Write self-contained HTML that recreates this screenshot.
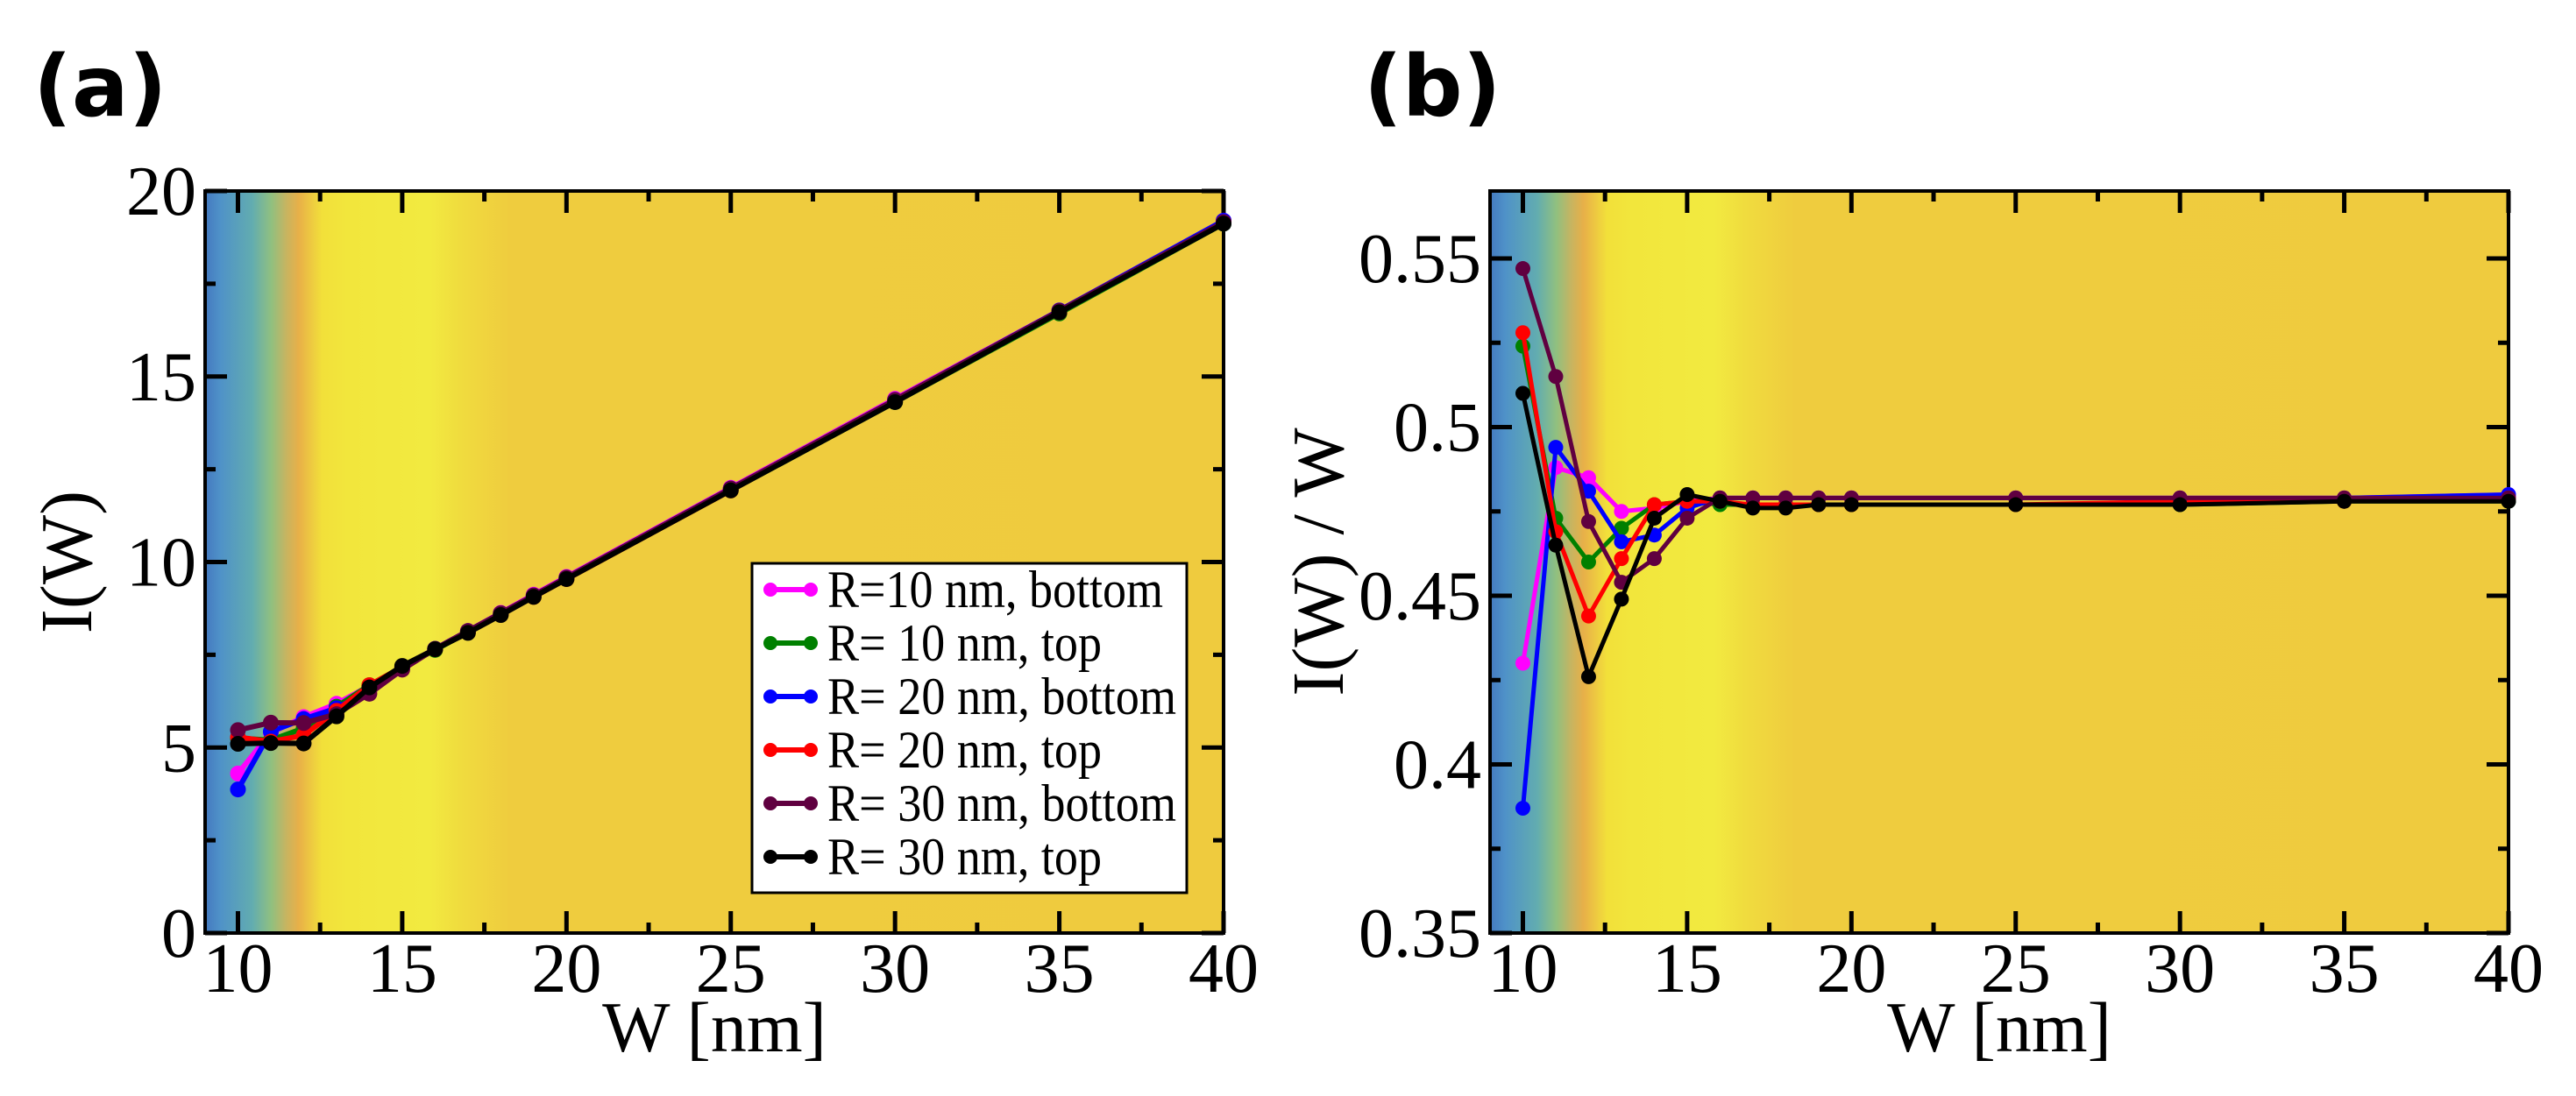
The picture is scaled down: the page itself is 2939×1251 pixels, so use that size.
<!DOCTYPE html>
<html><head><meta charset="utf-8"><style>
html,body{margin:0;padding:0;background:#fff;}
svg{display:block;}
text{font-family:"Liberation Serif",serif;fill:#000;}
</style></head><body>
<svg id="fig" width="2939" height="1251" viewBox="0 0 2939 1251" xmlns="http://www.w3.org/2000/svg">
<defs>
<linearGradient id="bgA" gradientUnits="userSpaceOnUse" x1="234" y1="0" x2="1396" y2="0">
<stop offset="0" stop-color="#4479c0"/><stop offset="0.015" stop-color="#4f92c8"/><stop offset="0.046" stop-color="#62acb0"/><stop offset="0.065" stop-color="#90c080"/><stop offset="0.08" stop-color="#c8b460"/><stop offset="0.092" stop-color="#e8b048"/><stop offset="0.115" stop-color="#f2e03a"/><stop offset="0.14" stop-color="#f2e63c"/><stop offset="0.22" stop-color="#f2ea40"/><stop offset="0.25" stop-color="#f0dc3e"/><stop offset="0.30" stop-color="#efcc3e"/><stop offset="1" stop-color="#efcb3e"/>
</linearGradient>
<linearGradient id="bgB" gradientUnits="userSpaceOnUse" x1="1700" y1="0" x2="2862" y2="0">
<stop offset="0" stop-color="#4479c0"/><stop offset="0.015" stop-color="#4f92c8"/><stop offset="0.046" stop-color="#62acb0"/><stop offset="0.065" stop-color="#90c080"/><stop offset="0.08" stop-color="#c8b460"/><stop offset="0.092" stop-color="#e8b048"/><stop offset="0.115" stop-color="#f2e03a"/><stop offset="0.14" stop-color="#f2e63c"/><stop offset="0.22" stop-color="#f2ea40"/><stop offset="0.25" stop-color="#f0dc3e"/><stop offset="0.30" stop-color="#efcc3e"/><stop offset="1" stop-color="#efcb3e"/>
</linearGradient>
</defs>
<text x="38" y="132" style="font-family:'DejaVu Sans',sans-serif;font-weight:bold;font-size:96px">(a)</text>
<text x="1556" y="132" style="font-family:'DejaVu Sans',sans-serif;font-weight:bold;font-size:96px">(b)</text>
</svg>
<script>
const W = [10,11,12,13,14,15,16,17,18,19,20,25,30,35,40];
const names = ["R=10 nm, bottom","R= 10 nm, top","R= 20 nm, bottom","R= 20 nm, top","R= 30 nm, bottom","R= 30 nm, top"];
const colors = ["#ff00ff","#008000","#0000ff","#ff0000","#600040","#000000"];
const seriesKeys = ["r10-bottom","r10-top","r20-bottom","r20-top","r30-bottom","r30-top"];
// panel (a) I(W)
const aR10b = [4.3,5.4,5.82,6.18,6.66,7.17,7.66,8.14,8.63,9.12,9.6,12.0,14.4,16.78,19.2];
const aR10t = [5.25,5.2,5.52,6.1,6.68,7.17,7.63,8.11,8.59,9.06,9.54,11.93,14.31,16.7,19.12];
const aR20b = [3.87,5.43,5.77,6.06,6.55,7.14,7.66,8.14,8.62,9.1,9.58,11.98,14.37,16.78,19.2];
const aR20t = [5.28,5.16,5.33,5.99,6.68,7.17,7.65,8.11,8.59,9.06,9.54,11.93,14.34,16.73,19.16];
const aR30b = [5.47,5.67,5.66,5.9,6.45,7.1,7.66,8.14,8.62,9.1,9.58,11.98,14.37,16.77,19.16];
const aR30t = [5.1,5.12,5.11,5.84,6.62,7.2,7.65,8.09,8.57,9.06,9.54,11.93,14.31,16.73,19.12];
// panel (b) I(W)/W
const bR10b = [0.430,0.488,0.485,0.475,0.476,0.478,0.479,0.479,0.479,0.479,0.479,0.479,0.479,0.479,0.480];
const bR10t = [0.524,0.473,0.460,0.470,0.477,0.478,0.477,0.477,0.477,0.477,0.477,0.477,0.477,0.478,0.478];
const bR20b = [0.387,0.494,0.481,0.466,0.468,0.476,0.479,0.479,0.479,0.479,0.479,0.479,0.479,0.479,0.480];
const bR20t = [0.528,0.469,0.444,0.461,0.477,0.478,0.478,0.477,0.477,0.477,0.477,0.477,0.478,0.478,0.479];
const bR30b = [0.547,0.515,0.472,0.454,0.461,0.473,0.479,0.479,0.479,0.479,0.479,0.479,0.479,0.479,0.479];
const bR30t = [0.510,0.465,0.426,0.449,0.473,0.480,0.478,0.476,0.476,0.477,0.477,0.477,0.477,0.478,0.478];
const xTicks = [10,15,20,25,30,35,40];
const aYTicks = [0,5,10,15,20];
const aYLabels = ["0","5","10","15","20"];
const bYTicks = [0.35,0.4,0.45,0.5,0.55];
const bYLabels = ["0.35","0.4","0.45","0.5","0.55"];
const legendWidths = [383,313,398,313,398,313];

const NS = "http://www.w3.org/2000/svg";
const svg = document.getElementById('fig');
function mk(tag, attrs, parent){const e=document.createElementNS(NS,tag);for(const k in attrs)e.setAttribute(k,attrs[k]);(parent||svg).appendChild(e);return e;}

function panel(cfg){
  const {L,R,T,B,xmin,xmax,ymin,ymax,grad,series,yTicks,yLabels,yMinor,ylabel,ylabelX,id} = cfg;
  const sx = v => L + (v-xmin)/(xmax-xmin)*(R-L);
  const sy = v => B - (v-ymin)/(ymax-ymin)*(B-T);
  const g = mk('g',{});
  
  
  const bg = mk('rect',{x:L,y:T,width:R-L,height:B-T,fill:'url(#'+grad+')'},g);
  
  
  for(let v=10; v<=40; v+=2.5){
    const major = (v%5===0);
    const len = major?25:12;
    const x = sx(v);
    mk('line',{x1:x,y1:B,x2:x,y2:B-len,stroke:'#000','stroke-width':5},g);
    mk('line',{x1:x,y1:T,x2:x,y2:T+len,stroke:'#000','stroke-width':5},g);
  }
  xTicks.forEach(v=>{
    const t = mk('text',{x:sx(v),y:B+67,'text-anchor':'middle','font-size':80},g);
    t.textContent = v;
    
    
  });
  yMinor.forEach(v=>{
    const y = sy(v);
    mk('line',{x1:L,y1:y,x2:L+12,y2:y,stroke:'#000','stroke-width':5},g);
    mk('line',{x1:R,y1:y,x2:R-12,y2:y,stroke:'#000','stroke-width':5},g);
  });
  yTicks.forEach((v,i)=>{
    const y = sy(v);
    mk('line',{x1:L,y1:y,x2:L+25,y2:y,stroke:'#000','stroke-width':5},g);
    mk('line',{x1:R,y1:y,x2:R-25,y2:y,stroke:'#000','stroke-width':5},g);
    const t = mk('text',{x:L-10,y:y+27,'text-anchor':'end','font-size':80},g);
    t.textContent = yLabels[i];
    
    
  });
  mk('rect',{x:L,y:T,width:R-L,height:B-T,fill:'none',stroke:'#000','stroke-width':4},g);
  const xt = mk('text',{x:(L+R)/2,y:1200,'text-anchor':'middle','font-size':82},g);
  xt.textContent = 'W [nm]';
  
  
  const yt = mk('text',{x:0,y:0,'text-anchor':'middle','font-size':84,transform:'translate('+ylabelX+','+((T+B)/2)+') rotate(-90)'},g);
  yt.textContent = ylabel;
  
  
  series.forEach((arr,si)=>{
    const sg = mk('g',{},g);
    
    
    const pts = W.map((w,i)=>sx(w)+','+sy(arr[i])).join(' ');
    mk('polyline',{points:pts,fill:'none',stroke:colors[si],'stroke-width':id==='a'?6:5,'stroke-linejoin':'round'},sg);
    W.forEach((w,i)=>{
      const c = mk('circle',{cx:sx(w),cy:sy(arr[i]),r:id==='a'?9:8.5,fill:colors[si]},sg);
      
      
    });
  });
  return g;
}

panel({id:'a',L:234,R:1396,T:218,B:1065,xmin:9,xmax:40,ymin:0,ymax:20,grad:'bgA',
  series:[aR10b,aR10t,aR20b,aR20t,aR30b,aR30t],yTicks:aYTicks,yLabels:aYLabels,
  yMinor:[2.5,7.5,12.5,17.5],ylabel:'I(W)',ylabelX:104});
panel({id:'b',L:1700,R:2862,T:218,B:1065,xmin:9,xmax:40,ymin:0.35,ymax:0.57,grad:'bgB',
  series:[bR10b,bR10t,bR20b,bR20t,bR30b,bR30t],yTicks:bYTicks,yLabels:bYLabels,
  yMinor:[0.375,0.425,0.475,0.525],ylabel:'I(W) / W',ylabelX:1532});

const lg = mk('g',{});


mk('rect',{x:858,y:643,width:496,height:376,fill:'#fff',stroke:'#000','stroke-width':3},lg);
names.forEach((n,i)=>{
  const yb = 693 + i*61;
  const ym = yb - 20;
  const e = mk('g',{},lg);
  
  
  mk('line',{x1:879,y1:ym,x2:925,y2:ym,stroke:colors[i],'stroke-width':6},e);
  mk('circle',{cx:879,cy:ym,r:8,fill:colors[i]},e);
  mk('circle',{cx:925,cy:ym,r:8,fill:colors[i]},e);
  const t = mk('text',{x:944,y:yb,'font-size':60,textLength:legendWidths[i],lengthAdjust:'spacingAndGlyphs'},e);
  t.textContent = n;
});
</script>
</body></html>
